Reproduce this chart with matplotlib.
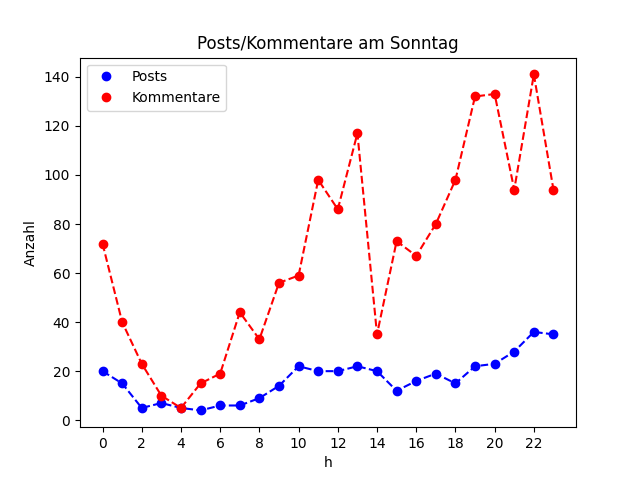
import matplotlib
matplotlib.use("Agg")
import matplotlib.pyplot as plt
import numpy as np

# hours of the day
hours = list(range(24))
posts = [20, 15, 5, 7, 5, 4, 6, 6, 9, 14, 22, 20, 20, 22, 20, 12, 16, 19, 15, 22, 23, 28, 36, 35]
kommentare = [72, 40, 23, 10, 5, 15, 19, 44, 33, 56, 59, 98, 86, 117, 35, 73, 67, 80, 98, 132, 133, 94, 141, 94]

fig, ax = plt.subplots(figsize=(6.4, 4.8), dpi=100)

ax.plot(hours, posts, 'bo', label='Posts')
ax.plot(hours, posts, 'b--')
ax.plot(hours, kommentare, 'ro', label='Kommentare')
ax.plot(hours, kommentare, 'r--')

ax.set_xticks(np.arange(0, 24, 2))
ax.set_title('Posts/Kommentare am Sonntag')
ax.set_xlabel('h')
ax.set_ylabel('Anzahl')
ax.legend(loc='upper left')

fig.savefig('out.png')
